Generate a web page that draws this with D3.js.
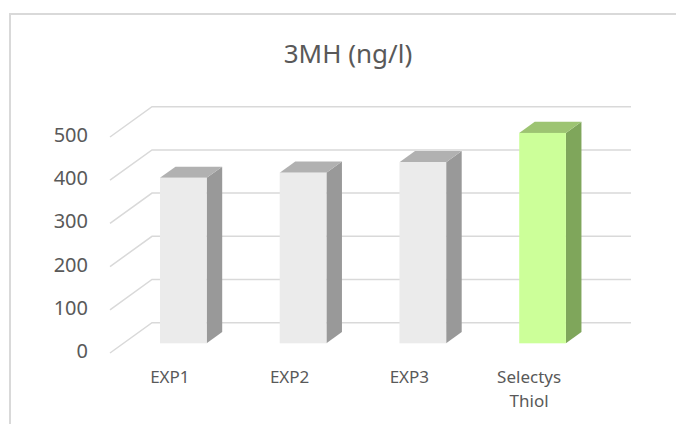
<!DOCTYPE html>
<html>
<head>
<meta charset="utf-8">
<script src="https://cdn.jsdelivr.net/npm/d3@7"></script>
<style>
  body { margin: 0; background: #fff; }
  text { font-family: "Noto Sans", "Open Sans", sans-serif; fill: #595959; }
</style>
</head>
<body>
<div id="chart"></div>
<script>
// chart data
const categories = ["EXP1", "EXP2", "EXP3", "Selectys Thiol"];
const values = [383, 395, 419, 487];
const yTicks = [0, 100, 200, 300, 400, 500];
const title = "3MH (ng/l)";

const W = 676, H = 424;

// 3d depth of the floor (back wall offset) and where the bars sit in it
const depth = { dx: 42, dy: -30.3 };
const barFront = 0.32, barBack = 0.69;

const svg = d3.select("#chart").append("svg")
    .attr("width", W)
    .attr("height", H);

// chart area border (cropped at right/bottom)
svg.append("rect")
    .attr("x", 10).attr("y", 14)
    .attr("width", W + 20).attr("height", H + 20)
    .attr("fill", "none")
    .attr("stroke", "#d9d9d9")
    .attr("stroke-width", 2);

svg.append("text")
    .attr("x", 348)
    .attr("y", 63)
    .attr("text-anchor", "middle")
    .style("font-size", "26px")
    .text(title);

let x = d3.scaleBand().domain(categories).range([110, 589])
    .paddingInner(0.61).paddingOuter(0.305);
let y = d3.scaleLinear().domain([0, 500]).range([353, 137]);

// gridlines: diagonal on floor/side then along the back wall
let grid = svg.append("g").attr("class", "grid")
    .attr("stroke", "#d9d9d9").attr("stroke-width", 1.5).attr("fill", "none");

grid.selectAll("path").data(yTicks).enter().append("path")
    .attr("d", (t) => {
        let x0 = x.range()[0], x1 = x.range()[1];
        return "M" + x0 + "," + y(t) +
            "L" + (x0 + depth.dx) + "," + (y(t) + depth.dy) +
            "L" + (x1 + depth.dx) + "," + (y(t) + depth.dy);
    });

// y labels
let yAxis = svg.append("g")
    .attr("transform", "translate(100,-2)")
    .call(d3.axisLeft(y).tickValues(yTicks).tickSize(0).tickPadding(12));
yAxis.select(".domain").remove();
yAxis.selectAll("text")
    .style("font-size", "20px")
    .attr("fill", "#595959")
    .style("font-family", "\"Noto Sans\", sans-serif");

// bars
const fdx = depth.dx * barFront, fdy = depth.dy * barFront;
const bdx = depth.dx * barBack, bdy = depth.dy * barBack;

const colors = {
    grey: { front: "#ebebeb", side: "#999999", top: "#b1b1b1" },
    green: { front: "#ccff99", side: "#7fa65b", top: "#9dc472" }
};

let bars = svg.append("g").selectAll("g.bar")
    .data(categories.map((c, i) => ({ name: c, value: values[i] })))
    .enter().append("g")
    .attr("class", "bar");

bars.each(function (d, i) {
    let g = d3.select(this);
    let col = (i === categories.length - 1) ? colors.green : colors.grey;
    let x0 = x(d.name), x1 = x0 + x.bandwidth();
    let yv = y(d.value), yb = y(0);

    g.append("polygon")
        .attr("points", [
            [x1 + fdx, yv + fdy], [x1 + bdx, yv + bdy],
            [x1 + bdx, yb + bdy], [x1 + fdx, yb + fdy]
        ].join(" "))
        .attr("fill", col.side);

    g.append("polygon")
        .attr("points", [
            [x0 + fdx, yv + fdy], [x0 + bdx, yv + bdy],
            [x1 + bdx, yv + bdy], [x1 + fdx, yv + fdy]
        ].join(" "))
        .attr("fill", col.top);

    g.append("rect")
        .attr("x", x0 + fdx)
        .attr("y", yv + fdy)
        .attr("width", x.bandwidth())
        .attr("height", yb - yv)
        .attr("fill", col.front);
});

// x labels, wrapped on spaces
let xl = svg.append("g").selectAll("text")
    .data(categories).enter().append("text")
    .attr("text-anchor", "middle")
    .attr("x", (d) => x(d) + x.bandwidth() / 2)
    .attr("y", 383)
    .style("font-size", "17px");

xl.each(function (d) {
    let words = d.split(" ");
    let t = d3.select(this);
    words.forEach((w, k) => {
        t.append("tspan")
            .attr("x", x(d) + x.bandwidth() / 2)
            .attr("dy", k === 0 ? 0 : 24)
            .text(w);
    });
});
</script>
</body>
</html>
